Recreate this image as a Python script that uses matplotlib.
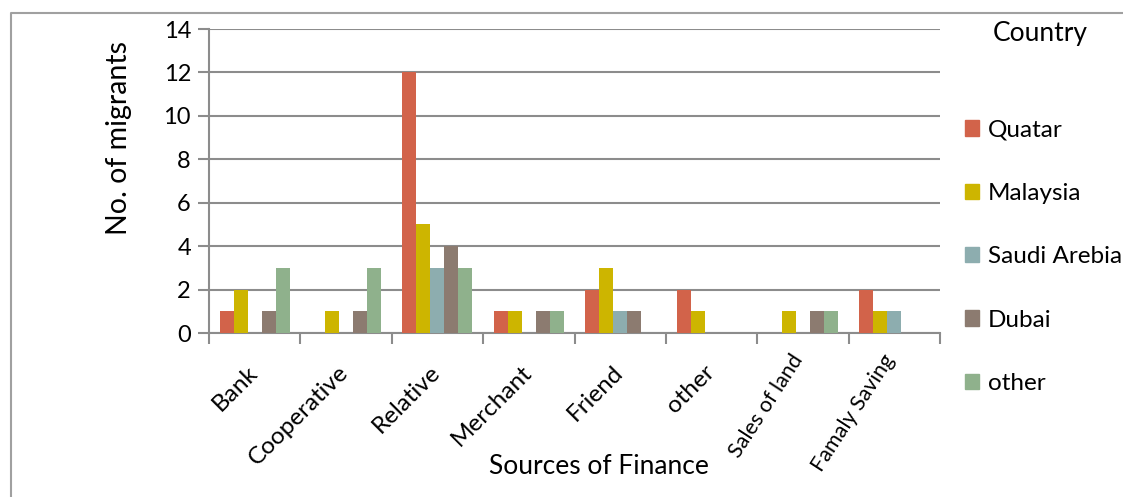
import matplotlib.pyplot as plt
import numpy as np
from matplotlib.lines import Line2D
from matplotlib.transforms import Bbox

plt.rcParams['font.family'] = ['Lato', 'DejaVu Sans']

sources = ["Bank", "Cooperative", "Relative", "Merchant", "Friend",
           "other", "Sales of land", "Famaly Saving"]
countries = ["Quatar", "Malaysia", "Saudi Arebia", "Dubai", "other"]
quatar = [1, 0, 12, 1, 2, 2, 0, 2]
malaysia = [2, 1, 5, 1, 3, 1, 1, 1]
saudi = [0, 0, 3, 0, 1, 0, 0, 1]
dubai = [1, 1, 4, 1, 1, 0, 1, 0]
other = [3, 3, 3, 1, 0, 0, 1, 0]
colors = ["#D2634A", "#CDB500", "#8DADAF", "#8C7B70", "#8FB18C"]

W, H = 1123, 497
fig = plt.figure(figsize=(W / 100, H / 100), dpi=100)
ax = fig.add_axes([209 / W, 1 - 333 / H, (940 - 209) / W, (333 - 29) / H])

grey = "#8C8C8C"
x = np.arange(len(sources))
bw = 0.153
series = [quatar, malaysia, saudi, dubai, other]
for i, (vals, c, name) in enumerate(zip(series, colors, countries)):
    ax.bar(x + (i - 2) * bw, vals, bw, color=c, label=name, zorder=3)

ax.set_xlim(-0.5, len(sources) - 0.5)
ax.set_ylim(0, 14)
ax.set_yticks(range(0, 15, 2))
ax.yaxis.grid(True, color=grey, linewidth=1.5, zorder=0)
ax.set_xticks(np.arange(len(sources) + 1) - 0.5)
ax.set_xticklabels([])
ax.tick_params(axis='x', length=8, width=1.5, color=grey)
ax.tick_params(axis='y', length=8, width=1.5, color=grey, labelsize=17, pad=5)
for s in ["top", "right"]:
    ax.spines[s].set_visible(False)
for s in ["left", "bottom"]:
    ax.spines[s].set_color(grey)
    ax.spines[s].set_linewidth(1.5)

# rotated category names, ending under each group centre;
# the two long ones are tilted more steeply and set a bit smaller
for xi, name in zip(x, sources):
    if len(name) > 12:
        ang, size, off = 57, 15.5, (-3, -17)
    else:
        ang, size, off = 45, 17.5, (-0.5, -26)
    ax.annotate(name, (xi, 0), xycoords='data', xytext=off,
                textcoords='offset points', rotation=ang,
                rotation_mode='anchor', ha='right', va='center', fontsize=size)

fig.text(119 / W, 1 - 138 / H, "No. of migrants", rotation=90,
         ha='center', va='center', fontsize=20.5)
xl = fig.text(599 / W, 1 - 467 / H, "Sources of Finance", ha='center',
              va='center', fontsize=19)
xl.set_clip_box(Bbox([[0, H - 475], [W, H]]))
xl.set_clip_on(True)

fig.text(1040 / W, 1 - 33 / H, "Country", ha='center', va='center', fontsize=19)
handles = [plt.Rectangle((0, 0), 1, 1, color=c) for c in colors]
fig.legend(handles, countries, loc='upper left',
           bbox_to_anchor=(955 / W, 1 - 110 / H), frameon=False,
           fontsize=17.5, handlelength=0.6, handleheight=0.6,
           handletextpad=0.35, labelspacing=1.74, borderaxespad=0)

# chart area border
fig.add_artist(Line2D([11 / W, 11 / W, 1], [0, 1 - 13 / H, 1 - 13 / H],
                      color="#A0A0A0", linewidth=1.5))

fig.savefig("out.png", dpi=100)
